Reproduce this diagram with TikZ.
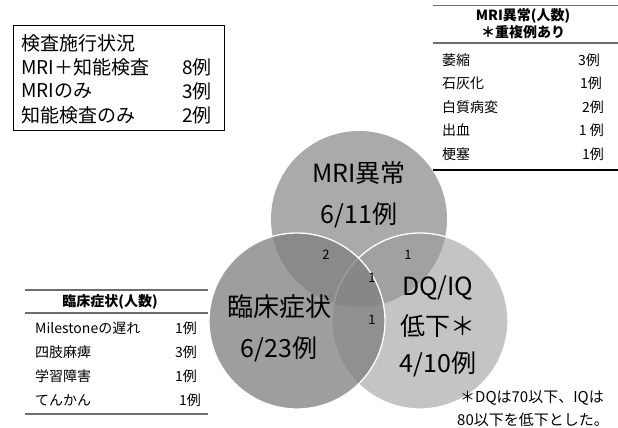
\documentclass[tikz,border=0pt]{standalone}
\usepackage{fontspec}
\setmainfont{Noto Sans CJK JP}
\definecolor{mrigray}{RGB}{170,170,170}
\definecolor{dqgray}{RGB}{155,155,155}
\definecolor{clingray}{RGB}{128,128,128}
\definecolor{rulegray}{RGB}{110,110,110}
\begin{document}
\begin{tikzpicture}[x=1pt,y=-1pt,
  boxtxt/.style={anchor=west,inner sep=0pt,font=\fontsize{19}{21}\selectfont},
  tabtxt/.style={anchor=west,inner sep=0pt,font=\fontsize{14}{16}\selectfont},
  tabhead/.style={inner sep=0pt,font=\fontsize{14}{16}\selectfont\bfseries},
  bigtxt/.style={inner sep=0pt,font=\fontsize{25}{27}\selectfont},
  numtxt/.style={inner sep=0pt,font=\fontsize{13}{15}\selectfont},
  foottxt/.style={anchor=west,inner sep=0pt,font=\fontsize{15}{17}\selectfont},
  venn/.style={circle,inner sep=0pt,minimum size=176pt},
  tabrule/.style={draw=rulegray,line width=1.2pt}]
\useasboundingbox (0,0) rectangle (618,428);

% Venn circles
\node[venn,fill=mrigray] (mri) at (359,219) {};
\node[venn,fill=dqgray,fill opacity=0.59,draw=white,line width=1.3pt] (dq) at (420,321) {};
\node[venn,fill=clingray,fill opacity=0.76,draw=white,line width=1.3pt] (clin) at (297,321) {};

% circle labels
\node[bigtxt] (mri1) at (359,173) {MRI異常};
\node[bigtxt] (mri2) at (359,215) {6/11例};
\node[bigtxt,font=\fontsize{26}{28}\selectfont] (clin1) at (279,307) {臨床症状};
\node[bigtxt] (clin2) at (279,349) {6/23例};
\node[bigtxt] (dq1) at (438,288) {DQ/IQ};
\node[bigtxt] (dq2) at (438,326) {低下＊};
\node[bigtxt] (dq3) at (438,364) {4/10例};
\node[numtxt] (n1) at (326,255) {2};
\node[numtxt] (n2) at (408,255) {1};
\node[numtxt] (n3) at (372,278) {1};
\node[numtxt] (n4) at (372,320) {1};

% status box
\node[draw,line width=1pt,minimum width=211pt,minimum height=105pt,anchor=north west,inner sep=0pt] (statusbox) at (13,25) {};
\node[boxtxt] (s0) at (21,43) {検査施行状況};
\node[boxtxt] (s1) at (21,67) {MRI＋知能検査};
\node[boxtxt,anchor=east] (s1v) at (212,67) {8例};
\node[boxtxt] (s2) at (21,91) {MRIのみ};
\node[boxtxt,anchor=east] (s2v) at (212,91) {3例};
\node[boxtxt] (s3) at (21,115) {知能検査のみ};
\node[boxtxt,anchor=east] (s3v) at (212,115) {2例};

% MRI table
\coordinate (mtA1) at (433,5); \coordinate (mtA2) at (618,5);
\coordinate (mtB1) at (433,43); \coordinate (mtB2) at (618,43);
\coordinate (mtC1) at (433,170); \coordinate (mtC2) at (618,170);
\draw[tabrule,line width=0.8pt] (mtA1) -- (mtA2);
\draw[tabrule] (mtB1) -- (mtB2);
\draw[black,line width=1.2pt] (mtC1) -- (mtC2);
\node[tabhead] (mh1) at (523,16) {MRI異常(人数)};
\node[tabhead] (mh2) at (523,32) {＊重複例あり};
\node[tabtxt] (m1) at (442,60) {萎縮};
\node[tabtxt,anchor=east] (m1v) at (600,60) {3例};
\node[tabtxt] (m2) at (442,83.5) {石灰化};
\node[tabtxt,anchor=east] (m2v) at (602,83.5) {1例};
\node[tabtxt] (m3) at (442,107) {白質病変};
\node[tabtxt,anchor=east] (m3v) at (604,107) {2例};
\node[tabtxt] (m4) at (442,130.5) {出血};
\node[tabtxt,anchor=east] (m4v) at (604,130.5) {1 例};
\node[tabtxt] (m5) at (442,154) {梗塞};
\node[tabtxt,anchor=east] (m5v) at (604,154) {1例};

% clinical table
\coordinate (ctA1) at (25,290); \coordinate (ctA2) at (208,290);
\coordinate (ctB1) at (25,313); \coordinate (ctB2) at (208,313);
\coordinate (ctC1) at (25,414); \coordinate (ctC2) at (208,414);
\draw[tabrule] (ctA1) -- (ctA2);
\draw[tabrule] (ctB1) -- (ctB2);
\draw[tabrule] (ctC1) -- (ctC2);
\node[tabhead] (ch) at (110,302) {臨床症状(人数)};
\node[tabtxt] (c1) at (35,328) {Milestoneの遅れ};
\node[tabtxt] (c1v) at (175,328) {1例};
\node[tabtxt] (c2) at (35,352) {四肢麻痺};
\node[tabtxt] (c2v) at (175,352) {3例};
\node[tabtxt] (c3) at (35,376) {学習障害};
\node[tabtxt] (c3v) at (175,376) {1例};
\node[tabtxt] (c4) at (35,400) {てんかん};
\node[tabtxt] (c4v) at (179,400) {1例};

% footnote
\node[foottxt] (f1) at (460,398) {＊DQは70以下、IQは};
\node[foottxt] (f2) at (457,420) {80以下を低下とした。};
\end{tikzpicture}
\end{document}
